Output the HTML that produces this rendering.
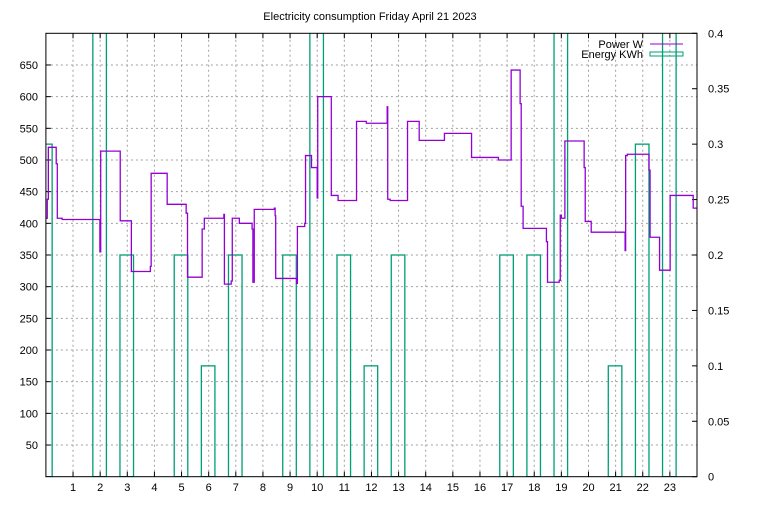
<!DOCTYPE html>
<html><head><meta charset="utf-8"><style>
body{margin:0;background:#fff}
svg text{font-family:"Liberation Sans",sans-serif;font-size:11px;fill:#000}
</style></head><body>
<svg id="chart" width="768" height="500" xmlns="http://www.w3.org/2000/svg">
<defs><clipPath id="clip"><rect x="45.9" y="33.3" width="651.1" height="443.4"/></clipPath></defs>
<text x="370" y="20" text-anchor="middle">Electricity consumption Friday April 21 2023</text>
<g id="grid"></g>
<g id="axes"></g>
<g id="energy" clip-path="url(#clip)"></g>
<g id="power" clip-path="url(#clip)"></g>
<rect x="45.9" y="33.3" width="651.1" height="443.4" fill="none" stroke="#000" stroke-width="1"/>
<g>
<text x="643" y="48" text-anchor="end">Power W</text>
<line x1="650" y1="44" x2="683" y2="44" stroke="#9400d3" stroke-width="1"/>
<text x="643" y="58" text-anchor="end">Energy KWh</text>
<rect x="650" y="52" width="33" height="4" fill="none" stroke="#009e73" stroke-width="1"/>
</g>
</svg>
<script>
const xTicks=[1,2,3,4,5,6,7,8,9,10,11,12,13,14,15,16,17,18,19,20,21,22,23];
const yTicks=[50,100,150,200,250,300,350,400,450,500,550,600,650];
const y2Ticks=[0,0.05,0.1,0.15,0.2,0.25,0.3,0.35,0.4];
const y2Labels=["0","0.05","0.1","0.15","0.2","0.25","0.3","0.35","0.4"];
const energyHours=[0,2,3,5,6,7,9,10,11,12,13,17,18,19,21,22,23];
const energyValues=[0.3,0.5,0.2,0.2,0.1,0.2,0.2,0.5,0.2,0.1,0.2,0.2,0.2,0.5,0.1,0.3,0.5];
const powerHours=[0,0.05,0.09,0.38,0.42,0.6,1.99,2.02,2.74,3.15,3.85,3.88,4.47,5.17,5.22,5.76,5.84,6.56,6.58,6.83,6.87,7.13,7.6,7.63,7.68,8.42,8.45,8.47,9.24,9.27,9.31,9.54,9.57,9.79,10.0,10.02,10.52,10.77,11.45,11.81,12.58,12.6,12.69,13.33,13.76,14.69,15.69,16.68,17.15,17.48,17.52,17.59,18.45,18.49,18.92,18.96,19.0,19.13,19.84,19.88,20.1,21.35,21.37,21.43,22.23,22.27,22.62,23.01,23.86];
const powerValues=[408,438,520,494,408,406,355,514,404,324,332,479,430,416,315,391,408,414,304,309,408,400,391,307,422,424,412,313,305,395,395,400,507,488,440,600,444,436,561,558,584,438,436,561,531,542,504,500,642,589,427,392,371,307,310,413,408,530,488,403,386,357,507,509,484,378,326,444,424];
const X0=45.9,X1=697,Y0=476.7,Y1=33.3;
const xs=h=>X0+h/24*(X1-X0);
const ys=v=>Y0-v/700*(Y0-Y1);
const y2s=v=>Y0-v/0.4*(Y0-Y1);
const NS="http://www.w3.org/2000/svg";
function mk(tag,attrs,parent){const e=document.createElementNS(NS,tag);for(const k in attrs)e.setAttribute(k,attrs[k]);parent.appendChild(e);return e;}
const grid=document.getElementById('grid'),axes=document.getElementById('axes');
xTicks.forEach(t=>{const x=xs(t);
const g=mk('line',{x1:x,y1:Y0,x2:x,y2:Y1,stroke:'#a0a0a0','stroke-dasharray':'2,3'},grid);


mk('line',{x1:x,y1:Y0,x2:x,y2:Y0-5,stroke:'#000'},axes);
mk('line',{x1:x,y1:Y1,x2:x,y2:Y1+5,stroke:'#000'},axes);
const l=mk('text',{x:x,y:491,'text-anchor':'middle'},axes);l.textContent=t;

});
yTicks.forEach(t=>{const y=ys(t);
const g=mk('line',{x1:X0,y1:y,x2:X1,y2:y,stroke:'#a0a0a0','stroke-dasharray':'2,3'},grid);


mk('line',{x1:X0,y1:y,x2:X0+5,y2:y,stroke:'#000'},axes);
const l=mk('text',{x:38,y:y+4,'text-anchor':'end'},axes);l.textContent=t;

});
y2Ticks.forEach((t,i)=>{const y=y2s(t);
mk('line',{x1:X1,y1:y,x2:X1-5,y2:y,stroke:'#000'},axes);
const l=mk('text',{x:708,y:y+4,'text-anchor':'start'},axes);l.textContent=y2Labels[i];

});
const eg=document.getElementById('energy');
energyHours.forEach((h,i)=>{const a=xs(h-0.27),b=xs(h+0.23);
const r=mk('rect',{x:a,y:y2s(energyValues[i]),width:b-a,height:Y0-y2s(energyValues[i]),fill:'none',stroke:'#009e73','stroke-width':1.3},eg);

});
let d='';
powerHours.forEach((h,i)=>{const x=xs(h),y=ys(powerValues[i]);
if(i===0)d+='M'+x+','+y;else d+='H'+x+'V'+y;});
d+='H'+xs(24);
const p=mk('path',{d:d,fill:'none',stroke:'#9400d3','stroke-width':1.3},document.getElementById('power'));


</script>
</body></html>
